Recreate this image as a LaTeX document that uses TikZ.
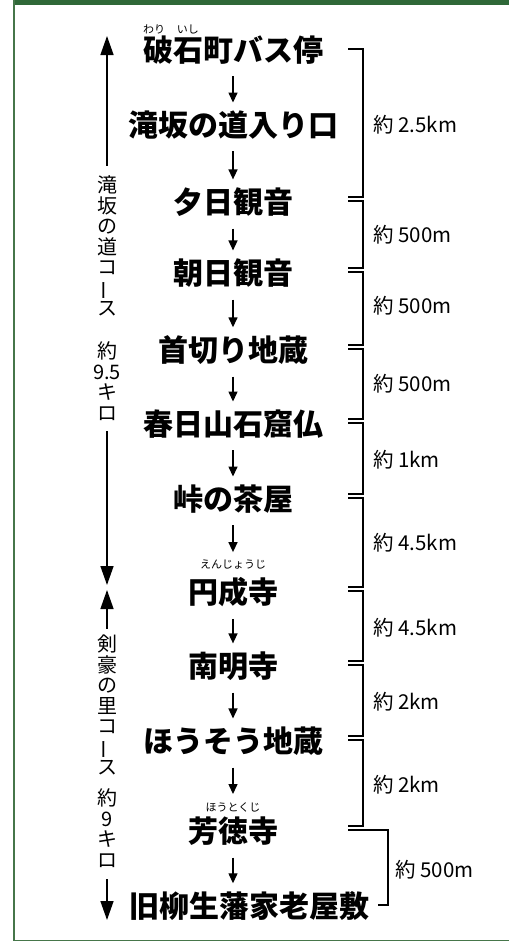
\documentclass[tikz,border=0pt]{standalone}
\usepackage{fontspec}
\newfontfamily\jp{Noto Sans CJK JP}
\usetikzlibrary{arrows.meta,calc}
\definecolor{band}{RGB}{47,104,56}
\definecolor{framegreen}{RGB}{70,118,74}
\newcommand{\bracketseg}[4]{\draw[br] ($(bl |- #1)+(0,#2)$) -- ($(bv |- #1)+(0,#2)$) -- ($(bv |- #3)+(0,#4)$) -- ($(bl |- #3)+(0,#4)$);}
\begin{document}
\begin{tikzpicture}[x=1pt,y=-1pt,
  st/.style={font=\jp\bfseries\fontsize{30}{30}\selectfont, inner sep=0pt},
  rb/.style={font=\jp\fontsize{11}{11}\selectfont, inner sep=0pt},
  lab/.style={font=\jp\fontsize{20.5}{20.5}\selectfont, inner sep=0pt, anchor=west},
  vt/.style={font=\jp\fontsize{20}{20.5}\selectfont, inner sep=0pt, align=center},
  dn/.style={-{Triangle[length=10pt,width=9pt]}, line width=1.4pt, shorten <=12pt, shorten >=8pt},
  br/.style={line width=1.4pt},
  big/.style={-{Triangle[length=19pt,width=13pt]}, line width=1.4pt},
]
\useasboundingbox (0,0) rectangle (509,945);
\fill[band] (13,0) rectangle (509,4.5);
\draw[framegreen, line width=1.5pt] (13.75,0) -- (13.75,940.5) -- (509,940.5);

% stations
\node[st] (s1) at (233,50) {破石町バス停};
\node[rb] (r1) at (171,29) {わり\hspace{12pt}いし};
\node[st] (s2) at (233,125) {滝坂の道入り口};
\node[st] (s3) at (233,202) {夕日観音};
\node[st] (s4) at (233,273) {朝日観音};
\node[st] (s5) at (233,350) {首切り地蔵};
\node[st] (s6) at (233,424) {春日山石窟仏};
\node[st] (s7) at (233,499) {峠の茶屋};
\node[rb] (r8) at (233,565) {えんじょうじ};
\node[st] (s8) at (233,592) {円成寺};
\node[st] (s9) at (233,666) {南明寺};
\node[st] (s10) at (233,741) {ほうそう地蔵};
\node[rb] (r11) at (233,807) {ほうとくじ};
\node[st] (s11) at (233,831) {芳徳寺};
\node[st] (s12) at (249,906) {旧柳生藩家老屋敷};

% down arrows
\draw[dn] (s1.south) -- (s2.north);
\draw[dn] (s2.south) -- (s3.north);
\draw[dn] (s3.south) -- (s4.north);
\draw[dn] (s4.south) -- (s5.north);
\draw[dn] (s5.south) -- (s6.north);
\draw[dn] (s6.south) -- (s7.north);
\draw[dn] (s7.south) -- (r8.north);
\draw[dn] (s8.south) -- (s9.north);
\draw[dn] (s9.south) -- (s10.north);
\draw[dn] (s10.south) -- (r11.north);
\draw[dn] (s11.south) -- (s11.south |- s12.north);

% brackets
\coordinate (bl) at (348,0);
\coordinate (bv) at (363,0);
\bracketseg{s1}{-1}{s3}{-5}
\bracketseg{s3}{-1}{s4}{-5}
\bracketseg{s4}{-1}{s5}{-5}
\bracketseg{s5}{-1}{s6}{-5}
\bracketseg{s6}{-1}{s7}{-5}
\bracketseg{s7}{-1}{s8}{-5}
\bracketseg{s8}{-1}{s9}{-5}
\bracketseg{s9}{-1}{s10}{-5}
\bracketseg{s10}{-1}{s11}{-5}
\coordinate (bw) at (388,0);
\coordinate (bt) at (378,0);
\draw[br] ($(bl |- s11)+(0,-1)$) -- ($(bw |- s11)+(0,-1)$) -- ($(bw |- s12)+(0,-1)$) -- ($(bt |- s12)+(0,-1)$);

% distance labels
\node[lab] (d1) at (373,125) {約 2.5km};
\node[lab] (d2) at (373,235) {約 500m};
\node[lab] (d3) at (373,306) {約 500m};
\node[lab] (d4) at (373,384) {約 500m};
\node[lab] (d5) at (373,460) {約 1km};
\node[lab] (d6) at (373,543) {約 4.5km};
\node[lab] (d7) at (373,628) {約 4.5km};
\node[lab] (d8) at (373,702) {約 2km};
\node[lab] (d9) at (373,785) {約 2km};
\node[lab] (d10) at (395,870) {約 500m};

% left course markers
\coordinate (t1) at (107,36);
\node[vt] (c1) at (107,246) {滝\\坂\\の\\道\\コ\\\rotatebox[origin=c]{90}{ー}\\ス};
\node[vt] (k1) at (107,381) {約\\9.5\\キ\\ロ};
\coordinate (t2) at (107,585);
\coordinate (t3) at (107,590);
\node[vt] (c2) at (107,705) {剣\\豪\\の\\里\\コ\\\rotatebox[origin=c]{90}{ー}\\ス};
\node[vt] (k2) at (107,828) {約\\9\\キ\\ロ};
\coordinate (t4) at (107,920);
\draw[big] ([yshift=10pt]c1.north) -- (t1);
\draw[big] ([yshift=-11pt]k1.south) -- (t2);
\draw[big] ([yshift=6pt]c2.north) -- (t3);
\draw[big] ([yshift=-12pt]k2.south) -- (t4);
\end{tikzpicture}
\end{document}
